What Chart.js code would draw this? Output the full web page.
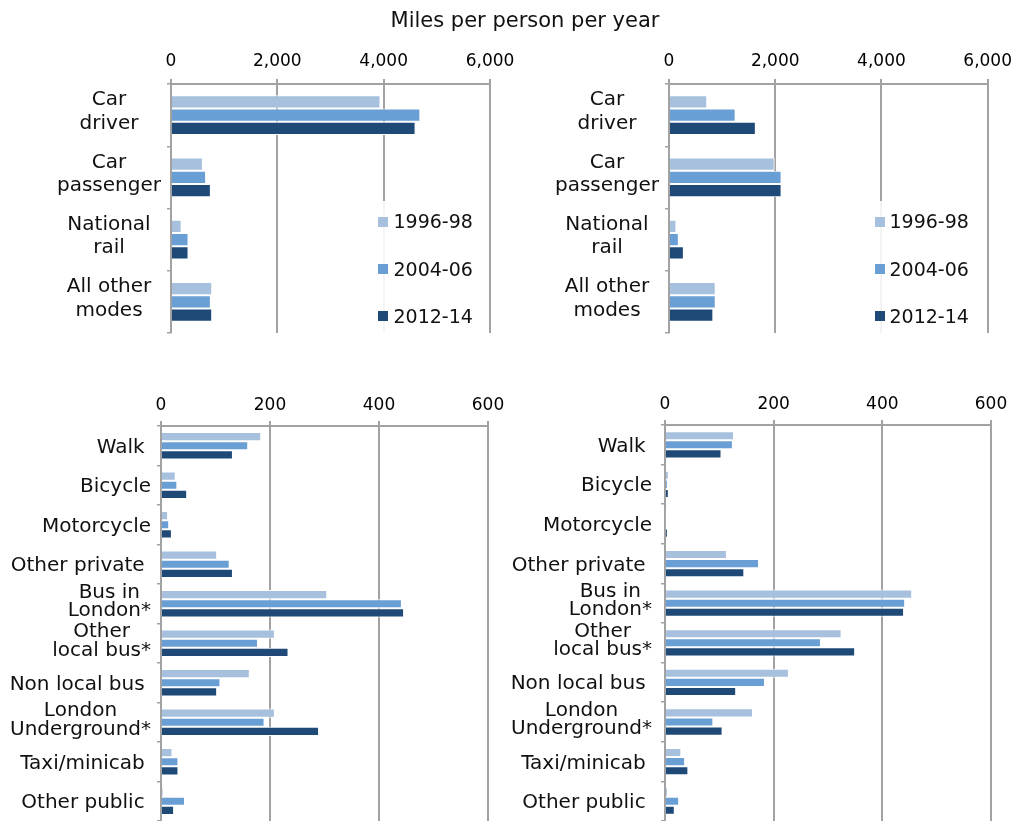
<!DOCTYPE html>
<html><head><meta charset="utf-8">
<script src="https://cdn.jsdelivr.net/npm/chart.js@4/dist/chart.umd.min.js"></script>
<style>
html,body{margin:0;padding:0;background:#fff;}
body{width:1019px;height:821px;overflow:hidden;position:relative;font-family:"DejaVu Sans",sans-serif;color:#111;}
.wrap{position:absolute;}
canvas{display:block;}
#title{position:absolute;left:0;width:1050px;top:10px;text-align:center;font-size:21px;line-height:21px;white-space:nowrap;}
.lgbox{position:absolute;background:rgba(255,255,255,0.88);}
.lgsq{position:absolute;width:10px;height:10px;}
.lgtx{position:absolute;font-size:19px;line-height:19px;white-space:nowrap;}
</style></head>
<body>
<div class="wrap" style="left:0;top:0;width:530px;height:345px"><canvas id="c1" width="530" height="345"></canvas></div>
<div class="wrap" style="left:505px;top:0;width:514px;height:345px"><canvas id="c2" width="514" height="345"></canvas></div>
<div class="wrap" style="left:0;top:370px;width:520px;height:490px"><canvas id="c3" width="520" height="490"></canvas></div>
<div class="wrap" style="left:505px;top:370px;width:514px;height:490px"><canvas id="c4" width="514" height="490"></canvas></div>
<div id="title">Miles per person per year</div>
<div id="legends"></div>
<script>
// ---- data ----
const seriesNames = ['1996-98', '2004-06', '2012-14'];
const topCategories = [['Car', 'driver'], ['Car', 'passenger'], ['National', 'rail'], ['All other', 'modes']];
const bottomCategories = ['Walk ', 'Bicycle', 'Motorcycle', 'Other private ', ['Bus in', 'London*'], ['Other', 'local bus*'], 'Non local bus ', ['London', 'Underground*'], 'Taxi/minicab ', 'Other public '];
const topTicks = [0, 2000, 4000, 6000];
const bottomTicks = [0, 200, 400, 600];

const leftTop1996 = [3940, 600, 200, 775];
const leftTop2004 = [4690, 660, 330, 750];
const leftTop2012 = [4600, 750, 330, 775];

const rightTop1996 = [720, 1990, 140, 880];
const rightTop2004 = [1255, 2120, 185, 880];
const rightTop2012 = [1635, 2120, 280, 835];

const leftBottom1996 = [184, 27, 13, 103, 305, 209, 163, 209, 21, 4];
const leftBottom2004 = [160, 30, 15, 126, 442, 178, 109, 190, 32, 44];
const leftBottom2012 = [132, 48, 20, 132, 446, 234, 103, 290, 32, 24];

const rightBottom1996 = [127, 7, 1, 114, 455, 325, 228, 162, 30, 5];
const rightBottom2004 = [125, 5, 1, 173, 442, 287, 184, 89, 37, 26];
const rightBottom2012 = [104, 7, 5, 146, 440, 350, 131, 106, 43, 18];

// ---- styles ----
const FONT = '"DejaVu Sans", sans-serif';
const GRID = '#a2a2a2';
const seriesColors = ['#a6c0de', '#6a9fd5', '#1f4a78'];
const fmt = v => String(v).replace(/\B(?=(\d{3})+(?!\d))/g, ',');

const yLabelPlugin = {
  id: 'yLabels',
  afterDraw(chart, args, o) {
    const ctx = chart.ctx, area = chart.chartArea, ys = chart.scales.y;
    ctx.save();
    ctx.font = o.size + 'px ' + FONT;
    ctx.fillStyle = '#111';
    ctx.textAlign = 'center';
    ctx.textBaseline = 'alphabetic';
    chart.data.labels.forEach((lab, i) => {
      const lines = Array.isArray(lab) ? lab : [lab];
      const w = Math.max(...lines.map(l => ctx.measureText(l).width));
      const cx = o.mode === 'center' ? area.left - o.offset : area.left - o.gap - w / 2;
      const cy = ys.getPixelForValue(i);
      const first = cy - (lines.length - 1) * o.lineHeight / 2 + (lines.length === 1 ? o.c1 : o.c2);
      lines.forEach((l, k) => ctx.fillText(l, cx, first + k * o.lineHeight));
    });
    ctx.restore();
  }
};

function makeChart(id, labels, sets, ticks, g, lab) {
  const xMax = ticks[ticks.length - 1];
  return new Chart(document.getElementById(id), {
    type: 'bar',
    data: {
      labels: labels,
      datasets: sets.map((d, i) => ({
        label: seriesNames[i], data: d, backgroundColor: seriesColors[i],
        borderColor: '#ffffff', borderWidth: 1, categoryPercentage: g.catPct, barPercentage: 1
      }))
    },
    options: {
      indexAxis: 'y', responsive: false, animation: false, devicePixelRatio: 1,
      layout: { padding: { left: 0, top: 0, right: g.padRight, bottom: g.padBottom } },
      plugins: { legend: { display: false }, tooltip: { enabled: false }, yLabels: lab },
      scales: {
        x: {
          position: 'top', min: 0, max: xMax,
          afterBuildTicks: s => { s.ticks = ticks.map(v => ({ value: v })); },
          ticks: { padding: g.tickPad, color: '#000', font: { family: FONT, size: 17 }, maxRotation: 0, autoSkip: false, callback: v => fmt(v) },
          grid: { color: GRID, lineWidth: 2, tickLength: 5 },
          border: { color: GRID, width: 2 },
          afterFit: s => { s.height = g.xHeight; }
        },
        y: {
          ticks: { color: 'rgba(0,0,0,0)', font: { size: 2 }, autoSkip: false, padding: 0 },
          grid: { color: GRID, lineWidth: 1.5, drawOnChartArea: false, tickLength: 4, offset: true },
          border: { color: GRID, width: 2 },
          afterFit: s => { s.width = g.yWidth; }
        }
      }
    },
    plugins: [yLabelPlugin]
  });
}

const topLab = { mode: 'center', offset: 62, size: 20, lineHeight: 23.3, c1: 7, c2: 2 };
makeChart('c1', topCategories, [leftTop1996, leftTop2004, leftTop2012], topTicks,
  { yWidth: 171, xHeight: 84, padRight: 40, padBottom: 12, tickPad: 7, catPct: 0.64 }, topLab);
makeChart('c2', topCategories, [rightTop1996, rightTop2004, rightTop2012], topTicks,
  { yWidth: 164, xHeight: 84, padRight: 29, padBottom: 12, tickPad: 7, catPct: 0.64 }, topLab);
makeChart('c3', bottomCategories, [leftBottom1996, leftBottom2004, leftBottom2012], bottomTicks,
  { yWidth: 161, xHeight: 56, padRight: 32, padBottom: 39, tickPad: 5, catPct: 0.69 },
  { mode: 'right', gap: 10, size: 20, lineHeight: 18.5, c1: 7, c2: 3 });
makeChart('c4', bottomCategories, [rightBottom1996, rightBottom2004, rightBottom2012], bottomTicks,
  { yWidth: 160, xHeight: 55, padRight: 28, padBottom: 39, tickPad: 5, catPct: 0.69 },
  { mode: 'right', gap: 13, size: 20, lineHeight: 18.5, c1: 7, c2: 3 });

// legends (HTML, inside the top panels)
const lg = document.getElementById('legends');
[{ box: 372, sq: 377.5, tx: 393.5 }, { box: 869, sq: 874.5, tx: 889.5 }].forEach(p => {
  const b = document.createElement('div');
  b.className = 'lgbox';
  b.style.cssText = `left:${p.box}px;top:201px;width:110px;height:134px;`;
  lg.appendChild(b);
  const rows = [212.2, 259.9, 307.1];
  seriesNames.forEach((n, i) => {
    const s = document.createElement('div');
    s.className = 'lgsq';
    s.style.cssText = `left:${p.sq}px;top:${rows[i] + 4.3}px;background:${seriesColors[i]};`;
    lg.appendChild(s);
    const t = document.createElement('div');
    t.className = 'lgtx';
    t.style.cssText = `left:${p.tx}px;top:${rows[i]}px;`;
    t.textContent = n;
    lg.appendChild(t);
  });
});
</script>
</body></html>
